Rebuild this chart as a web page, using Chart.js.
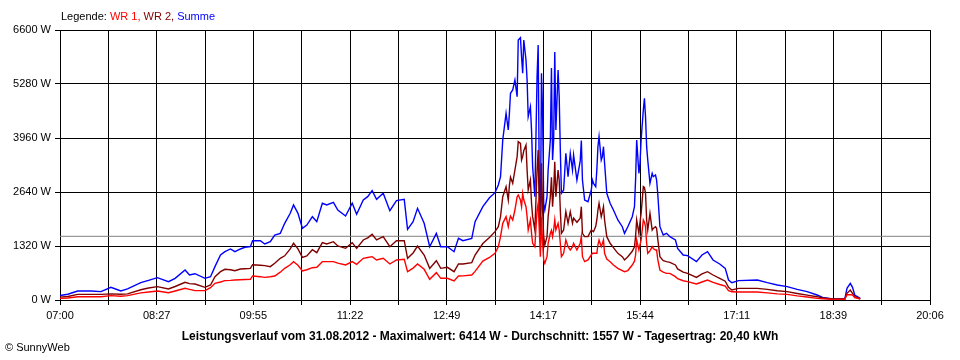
<!DOCTYPE html>
<html><head><meta charset="utf-8">
<script src="https://cdn.jsdelivr.net/npm/chart.js@4/dist/chart.umd.min.js"></script>
<style>html,body{margin:0;padding:0;background:#fff;}canvas{display:block;}</style>
</head><body><canvas id="c" width="960" height="360"></canvas>
<script>
const times = ['07:00','07:07','07:16','07:28','07:37','07:46','07:55','08:01','08:13','08:20','08:28','08:38','08:44','08:53','08:57','09:02','09:11','09:16','09:20','09:25','09:29','09:34','09:38','09:43','09:47','09:52','09:54','10:01','10:05','10:10','10:14','10:19','10:23','10:28','10:31','10:35','10:39','10:43','10:48','10:52','10:57','11:01','11:07','11:11','11:18','11:24','11:28','11:34','11:38','11:42','11:46','11:52','11:58','12:04','12:11','12:14','12:19','12:23','12:29','12:34','12:40','12:44','12:50','12:56','13:00','13:04','13:12','13:15','13:22','13:28','13:33','13:36','13:38','13:40','13:43','13:45','13:46','13:47','13:49','13:51','13:53','13:54','13:56','13:57','13:58','13:59','14:01','14:02','14:03','14:05','14:06','14:07','14:09','14:11','14:12','14:13','14:14','14:15','14:16','14:17','14:18','14:20','14:21','14:23','14:24','14:25','14:26','14:27','14:28','14:30','14:31','14:32','14:33','14:35','14:37','14:39','14:41','14:43','14:44','14:47','14:50','14:51','14:52','14:54','14:57','15:00','15:01','15:02','15:04','15:05','15:06','15:07','15:09','15:10','15:11','15:12','15:14','15:17','15:20','15:24','15:28','15:30','15:33','15:37','15:39','15:40','15:41','15:43','15:44','15:45','15:47','15:48','15:49','15:50','15:51','15:53','15:55','15:56','15:58','15:59','16:00','16:02','16:05','16:08','16:11','16:16','16:18','16:23','16:27','16:35','16:40','16:45','16:50','16:56','17:01','17:04','17:07','17:13','17:30','17:39','17:48','17:57','18:06','18:15','18:24','18:29','18:38','18:49','18:51','18:54','18:56','18:58','19:03'];
const summe = [110,140,220,220,205,310,220,270,423,480,545,448,530,733,611,643,530,570,815,1100,1181,1247,1181,1247,1288,1303,1450,1450,1369,1425,1589,1630,1874,2119,2322,2119,1753,1833,2037,1914,2364,2322,2388,2200,2053,2364,2094,2444,2526,2673,2461,2608,2183,2428,2461,1727,1914,2241,1874,1303,1630,1303,1303,1181,1507,1450,1507,1914,2281,2500,2624,2811,3014,3911,4563,4156,4563,5052,5133,5378,4970,6356,6414,5948,5541,6356,5867,5378,4481,4726,4156,3259,2526,5459,6233,2933,1711,5541,4563,2364,2200,2526,3178,3911,5671,3422,3911,6062,4156,5622,4970,3667,2608,2689,3585,3014,3585,3178,3544,2933,3400,3900,2933,2444,2403,2689,2933,2852,2770,3178,3748,3993,3422,3504,3748,3341,2608,2364,2200,1956,1792,1630,1792,2037,2281,2933,3911,3097,3341,3911,4644,4930,4481,3748,3422,2852,3097,3014,3056,2933,2608,1792,1589,1630,1548,1467,1263,1100,1084,937,1100,1181,978,880,774,489,423,473,489,423,367,326,261,204,122,65,24,24,285,407,310,122,41];
const wr2 = [70,85,138,138,138,150,140,150,250,293,326,269,330,432,400,391,310,367,570,692,750,740,717,758,765,774,863,850,839,815,900,1019,1080,1250,1386,1250,1043,1076,1230,1157,1401,1369,1425,1320,1263,1401,1263,1467,1520,1605,1467,1548,1303,1450,1450,1019,1150,1320,1100,774,961,774,799,692,880,880,913,1100,1380,1530,1670,1792,2037,2526,2770,2444,2800,3000,2852,3178,3504,3870,3830,3422,3504,3650,3789,3178,2689,2933,2364,2037,1711,3178,3667,2200,1386,3341,2200,1548,1344,1548,2037,2526,3000,2281,2689,3381,2526,3178,2933,2200,1630,1711,2159,1874,2159,1874,2000,1900,2000,2281,1630,1548,1548,1711,1690,1670,1800,1956,2200,2364,2037,2150,2281,1956,1548,1386,1280,1140,1060,978,1059,1190,1300,1550,1956,1630,1900,2119,2770,2750,2608,1956,1711,2119,1711,1750,1792,1753,1500,1059,960,937,920,856,760,680,652,554,640,692,611,530,460,310,244,285,285,260,225,204,160,120,81,50,24,24,163,244,163,80,30];
const wr1 = [40,50,81,81,81,106,90,106,175,195,220,179,220,285,260,228,228,300,407,440,473,480,489,495,500,505,587,570,554,570,587,680,774,860,937,850,709,740,790,800,937,937,937,900,856,937,872,1019,1040,1059,978,1019,880,978,994,692,780,880,750,505,668,530,530,464,587,590,611,700,950,1040,1141,1303,1548,1874,2037,1792,1950,2050,1956,2200,2526,2567,2444,2281,2608,2450,2281,2037,1711,1956,1630,1386,1303,2200,2364,1711,1059,2037,1386,978,896,1059,1386,1630,1700,1548,1711,1956,1711,1874,1711,1386,1059,1141,1467,1303,1222,1300,1386,1222,1386,1548,1059,937,978,1100,1141,1141,1141,1141,1350,1467,1303,1380,1467,1141,1000,937,856,774,720,692,720,856,950,1100,1467,1222,1350,1467,1956,1900,1792,1386,1141,1200,1303,1260,1222,1222,1000,733,680,652,652,570,520,470,448,391,440,489,430,380,342,228,200,195,195,175,150,138,100,75,41,30,16,20,130,130,122,60,20];
const average = 1557;
const xTickLabels = ['07:00','08:27','09:55','11:22','12:49','14:17','15:44','17:11','18:39','20:06'];
const yTickLabels = ['0 W','1320 W','2640 W','3960 W','5280 W','6600 W'];
const legendParts = [['Legende: ','#000000'],['WR 1, ','#ff0000'],['WR 2, ','#800000'],['Summe','#0000ff']];
const caption = 'Leistungsverlauf vom 31.08.2012 - Maximalwert: 6414 W - Durchschnitt: 1557 W - Tagesertrag: 20,40 kWh';
const copyright = '\u00A9 SunnyWeb';

function toMin(s){const p=s.split(':').map(Number);return p[0]*60+p[1];}
const xMin = toMin(xTickLabels[0]), xMax = toMin(xTickLabels[xTickLabels.length-1]);
const yMax = 6600, yStep = 1320;
const xSub = 2;
const xStep = (xMax-xMin)/((xTickLabels.length-1)*xSub);
const pts = arr => times.map((t,i)=>({x:toMin(t), y:arr[i]}));
const FONT = 'Liberation Sans';

const textPlugin = {
  id:'texts',
  afterDraw(chart){
    const c = chart.ctx;
    c.save();
    c.textBaseline = 'middle';
    c.textAlign = 'left';
    c.font = '11px "' + FONT + '"';
    let x = 61;
    for (const [t,col] of legendParts){ c.fillStyle = col; c.fillText(t, x, 17); x += c.measureText(t).width; }
    c.font = 'bold 12px "' + FONT + '"';
    c.textAlign = 'center';
    c.fillStyle = '#000';
    c.fillText(caption, 480, 337);
    c.textAlign = 'left';
    c.font = '11px "' + FONT + '"';
    c.fillText(copyright, 5, 348);
    c.restore();
  }
};

const line = (label, arr, color, w) => ({label, data: pts(arr), borderColor: color, backgroundColor: color, borderWidth: w, pointRadius: 0, tension: 0, fill: false});

new Chart(document.getElementById('c'), {
  type: 'line',
  data: { datasets: [
    line('WR 1', wr1, '#ff0000', 1.4),
    line('WR 2', wr2, '#800000', 1.4),
    line('Summe', summe, '#0000ff', 1.4),
    {label:'Durchschnitt', data:[{x:xMin,y:average},{x:xMax,y:average}], borderColor:'#808080', borderWidth:1, pointRadius:0, fill:false}
  ]},
  options: {
    responsive: false, animation: false, devicePixelRatio: 1,
    layout: { padding: { top: 30, right: 30, left: 0, bottom: 0 } },
    plugins: { legend: { display: false }, tooltip: { enabled: false }, title: { display: false } },
    scales: {
      x: {
        type: 'linear', min: xMin, max: xMax,
        afterBuildTicks: s => { const t=[]; for (let k=0; k<=(xTickLabels.length-1)*xSub; k++) t.push({value: xMin + k*xStep}); s.ticks = t; },
        afterFit: s => { s.height = 60; },
        ticks: { autoSkip: false, maxRotation: 0, minRotation: 0, color: '#000', padding: 4, font: { family: FONT, size: 11 },
          callback: (v, i) => (i % xSub === 0) ? xTickLabels[i / xSub] : '' },
        grid: { color: '#000', lineWidth: 1, tickLength: 5 },
        border: { color: '#000', width: 1 }
      },
      y: {
        min: 0, max: yMax,
        afterBuildTicks: s => { s.ticks = yTickLabels.map((_, i) => ({value: i * yStep})); },
        afterFit: s => { s.width = 60; },
        ticks: { color: '#000', padding: 4, font: { family: FONT, size: 11 }, callback: (v, i) => yTickLabels[i] },
        grid: { color: '#000', lineWidth: 1, tickLength: 5 },
        border: { color: '#000', width: 1 }
      }
    }
  },
  plugins: [textPlugin]
});
</script></body></html>
